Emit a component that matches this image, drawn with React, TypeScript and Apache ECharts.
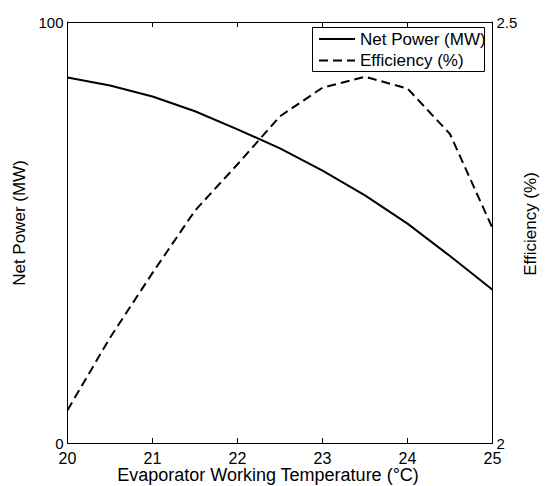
import React, { useEffect, useRef } from "react";
import * as echarts from "echarts";

const temperatures = [20, 20.5, 21, 21.5, 22, 22.5, 23, 23.5, 24, 24.5, 25];
const netPower = [86.8, 84.9, 82.3, 78.8, 74.5, 70.0, 64.7, 58.8, 52.1, 44.4, 36.4];
const efficiency = [2.039, 2.125, 2.202, 2.276, 2.331, 2.388, 2.422, 2.435, 2.421, 2.367, 2.255];
const seriesNames = ["Net Power (MW)", "Efficiency (%)"];
const xTitle = "Evaporator Working Temperature (°C)";

const FONT = "Liberation Sans";
const DASH = [9, 5];

export default function App() {
  const ref = useRef<HTMLDivElement>(null);
  useEffect(() => {
    if (!ref.current) return;
    const chart = echarts.init(ref.current, null, { renderer: "svg" });
    const axisLine = { show: true, lineStyle: { color: "#000", width: 1 } };
    const tick = { show: true, inside: true, length: 5, lineStyle: { color: "#000" } };
    chart.setOption({
      animation: false,
      backgroundColor: "#fff",
      grid: {
        left: 67.5,
        right: 52.5,
        top: 22,
        bottom: 43,
        containLabel: false,
        outerBoundsMode: "none",
      },
      xAxis: [
        {
          type: "value",
          min: 20,
          max: 25,
          interval: 1,
          position: "bottom",
          axisLine,
          axisTick: tick,
          axisLabel: { fontFamily: FONT, fontSize: 16, color: "#000", margin: 7 },
          splitLine: { show: false },
        },
        {
          type: "value",
          min: 20,
          max: 25,
          interval: 1,
          position: "top",
          axisLine,
          axisTick: tick,
          axisLabel: { show: false },
          splitLine: { show: false },
        },
      ],
      yAxis: [
        {
          type: "value",
          min: 0,
          max: 100,
          interval: 100,
          position: "left",
          axisLine,
          axisTick: { show: false },
          axisLabel: { fontFamily: FONT, fontSize: 15, color: "#000", margin: 4 },
          splitLine: { show: false },
        },
        {
          type: "value",
          min: 2,
          max: 2.5,
          interval: 0.5,
          position: "right",
          axisLine,
          axisTick: { show: false },
          axisLabel: { fontFamily: FONT, fontSize: 15, color: "#000", margin: 4 },
          splitLine: { show: false },
        },
      ],
      graphic: [
        {
          type: "text",
          x: 268,
          y: 475,
          style: {
            text: xTitle,
            fontFamily: FONT,
            fontSize: 18,
            fill: "#000",
            textAlign: "center",
            textVerticalAlign: "middle",
          },
        },
        {
          type: "text",
          x: 19,
          y: 223,
          rotation: Math.PI / 2,
          style: {
            text: seriesNames[0],
            fontFamily: FONT,
            fontSize: 17,
            fill: "#000",
            textAlign: "center",
            textVerticalAlign: "middle",
          },
        },
        {
          type: "text",
          x: 530,
          y: 224,
          rotation: Math.PI / 2,
          style: {
            text: seriesNames[1],
            fontFamily: FONT,
            fontSize: 17,
            fill: "#000",
            textAlign: "center",
            textVerticalAlign: "middle",
          },
        },
        {
          type: "rect",
          shape: { x: 312.5, y: 27.5, width: 172, height: 44 },
          style: { fill: "#fff", stroke: "#000", lineWidth: 1 },
          z: 10,
        },
        {
          type: "line",
          shape: { x1: 319, y1: 39, x2: 355, y2: 39 },
          style: { stroke: "#000", lineWidth: 2 },
          z: 11,
        },
        {
          type: "line",
          shape: { x1: 319, y1: 60.5, x2: 355, y2: 60.5 },
          style: { stroke: "#000", lineWidth: 2, lineDash: DASH },
          z: 11,
        },
        {
          type: "text",
          x: 360,
          y: 39,
          style: {
            text: seriesNames[0],
            fontFamily: FONT,
            fontSize: 17,
            fill: "#000",
            textAlign: "left",
            textVerticalAlign: "middle",
          },
          z: 11,
        },
        {
          type: "text",
          x: 360,
          y: 60.5,
          style: {
            text: seriesNames[1],
            fontFamily: FONT,
            fontSize: 17,
            fill: "#000",
            textAlign: "left",
            textVerticalAlign: "middle",
          },
          z: 11,
        },
      ],
      series: [
        {
          name: seriesNames[0],
          type: "line",
          xAxisIndex: 0,
          yAxisIndex: 0,
          data: temperatures.map((t, i) => [t, netPower[i]]),
          showSymbol: false,
          symbol: "none",
          lineStyle: { color: "#000", width: 2, type: "solid" },
          itemStyle: { color: "#000" },
        },
        {
          name: seriesNames[1],
          type: "line",
          xAxisIndex: 0,
          yAxisIndex: 1,
          data: temperatures.map((t, i) => [t, efficiency[i]]),
          showSymbol: false,
          symbol: "none",
          lineStyle: { color: "#000", width: 2, type: DASH },
          itemStyle: { color: "#000" },
        },
      ],
    });
    return () => chart.dispose();
  }, []);
  return <div ref={ref} style={{ width: 545, height: 486, position: "absolute", left: 0, top: 0 }} />;
}
